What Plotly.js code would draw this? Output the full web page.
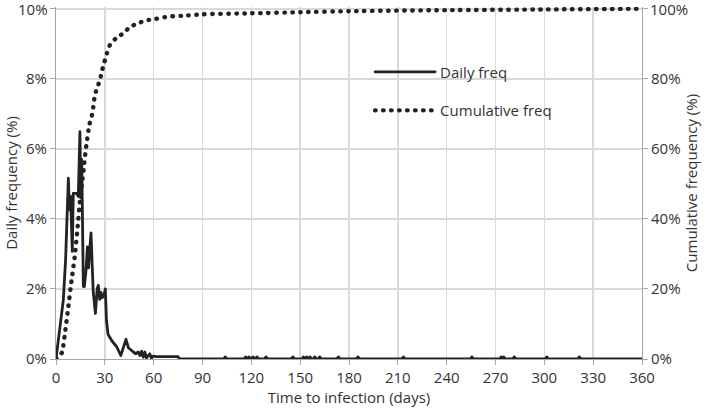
<!DOCTYPE html>
<html>
<head>
<meta charset="utf-8">
<script src="https://cdn.plot.ly/plotly-3.0.1.min.js"></script>
<style>
  html, body { margin:0; padding:0; background:#fff; }
  #chart { width:709px; height:411px; }
  .scatterlayer path.js-line { stroke-linecap: round; stroke-linejoin: round; }
  .legend path.js-line { stroke-linecap: round; }
</style>
</head>
<body>
<div id="chart"></div>
<script>
// daily frequency (%)
const dailyDays = [0, 1.5, 2.9, 4.5, 5.9, 6.6, 7.6, 8.2, 9.0, 10.0, 10.6, 12.7, 13.7, 14.7, 15.2, 15.8, 16.8,
  17.4, 18.4, 19.3, 20.0, 20.7, 21.5, 22.3, 22.9, 24.2, 25.3, 26.0, 26.8, 27.6, 28.4, 29.3, 30.3, 31.0, 32.0,
  34.6, 37.3, 39.8, 41.5, 43.0, 44.5, 46.0, 47.5, 49.0, 50.5, 51.6, 52.6, 53.6, 54.6, 55.6, 56.6, 57.6, 58.6,
  59.6, 61.6, 74.9, 76.0];
const dailyVals = [0, 0.6, 1.21, 1.69, 2.83, 3.88, 5.16, 4.26, 4.64, 3.07, 4.73, 4.73, 4.64, 6.49, 4.6, 5.69, 2.07,
  2.07, 2.5, 3.2, 2.6, 3.1, 3.6, 2.6, 1.9, 1.3, 2.0, 2.1, 1.7, 1.9, 1.75, 1.8, 2.0, 1.1, 0.7,
  0.5, 0.35, 0.1, 0.35, 0.56, 0.32, 0.25, 0.2, 0.15, 0.2, 0.1, 0.22, 0.05, 0.2, 0.03, 0.1, 0.15, 0.02,
  0.08, 0.07, 0.07, 0];
// isolated single-day cases later on
const blipDays = [104, 116.5, 118.5, 121, 123.5, 129, 145.5, 152, 154, 156, 159, 162, 173.5, 185.5,
  213.5, 255.5, 273.5, 275, 281.5, 301.5, 321.5];
const blipVal = 0.06;

// cumulative frequency (%)
const cumDays = [0, 3.5, 5.5, 7.6, 9.6, 11.7, 13.3, 14.7, 16.2, 17.4, 18.8, 20.5, 21.9, 22.9, 23.6, 24.9, 27,
  28.2, 29.7, 31.3, 33.2, 36.9, 41.4, 45.5, 50.6, 55.7, 61.2, 67, 72.5, 78, 90, 120, 150, 180, 240, 300, 360];
const cumVals = [0, 1.7, 7.4, 15, 22.6, 30, 37.8, 45, 51, 56, 61.6, 66.9, 69.2, 71.9, 74.5, 77, 79.6,
  82.2, 84.7, 87.3, 89.7, 91.6, 93, 94.8, 95.9, 96.7, 97.1, 97.6, 97.9, 98.0, 98.4, 98.7, 99.0, 99.3, 99.6, 99.8, 100];

const xTicks = [0, 30, 60, 90, 120, 150, 180, 210, 240, 270, 300, 330, 360];
const yTicks = [0, 2, 4, 6, 8, 10];
const y2Ticks = [0, 20, 40, 60, 80, 100];

// daily series: early part, then zero baseline with the single-day blips
let dx = dailyDays.slice(), dy = dailyVals.slice();
blipDays.forEach(d => { dx.push(d - 1, d, d + 1); dy.push(0, blipVal, 0); });
dx.push(360); dy.push(0);

const ink = '#222';
const grid = '#d9d9d9';
const axisCol = '#a6a6a6';
const font = { family: 'Open Sans, sans-serif', size: 15, color: '#333' };

const yMax = yTicks[yTicks.length - 1], y2Max = y2Ticks[y2Ticks.length - 1];

const traces = [
  { x: dx, y: dy, mode: 'lines', name: 'Daily freq', line: { color: ink, width: 2.8 },
    legendgroup: 'a', yaxis: 'y' },
  { x: cumDays, y: cumVals, mode: 'lines', name: 'Cumulative freq', yaxis: 'y2', legendgroup: 'b',
    line: { color: ink, width: 4.4, dash: '0.5px,7.5px', shape: 'spline', smoothing: 0.6 } }
];

const layout = {
  width: 709, height: 411,
  margin: { l: 56, r: 67, t: 7, b: 52 },
  paper_bgcolor: '#fff', plot_bgcolor: '#fff',
  font: font,
  showlegend: true,
  legend: { x: 0.536, y: 0.862, xanchor: 'left', yanchor: 'top', bgcolor: 'rgba(0,0,0,0)',
    traceorder: 'grouped', tracegroupgap: 16, itemwidth: 60, font: font },
  xaxis: {
    range: [0, 360], tickvals: xTicks, showgrid: true, gridcolor: grid, gridwidth: 1.5,
    showline: true, linecolor: axisCol, linewidth: 1, zeroline: false,
    ticks: 'outside', ticklen: 5, tickcolor: axisCol,
    title: { text: 'Time to infection (days)', font: font, standoff: 6 }
  },
  yaxis: {
    range: [0, 10.05], tickvals: yTicks, ticktext: yTicks.map(v => v === yMax ? '' : v + '%'),
    showgrid: true, gridcolor: grid, gridwidth: 1.5,
    showline: true, linecolor: axisCol, linewidth: 1, zeroline: false,
    ticks: 'outside', ticklen: 5, tickcolor: axisCol,
    title: { text: 'Daily frequency (%)', font: font, standoff: 4 }
  },
  yaxis2: {
    range: [0, 100.5], tickvals: y2Ticks, ticktext: y2Ticks.map(v => v === y2Max ? '' : v + '%'),
    overlaying: 'y', side: 'right', showgrid: false,
    showline: true, linecolor: axisCol, linewidth: 1, zeroline: false,
    ticks: 'outside', ticklen: 5, tickcolor: axisCol,
    title: { text: 'Cumulative frequency (%)', font: font, standoff: 4 }
  },
  // top tick labels sit at the very edge of the page, so place them as annotations
  annotations: [
    { xref: 'paper', x: 0, xanchor: 'right', xshift: -6, yref: 'y', y: yMax, yanchor: 'middle',
      text: yMax + '%', showarrow: false, font: font },
    { xref: 'paper', x: 1, xanchor: 'left', xshift: 6, yref: 'y2', y: y2Max, yanchor: 'middle',
      text: y2Max + '%', showarrow: false, font: font }
  ]
};

Plotly.newPlot('chart', traces, layout, { displayModeBar: false, staticPlot: true });
</script>
</body>
</html>
